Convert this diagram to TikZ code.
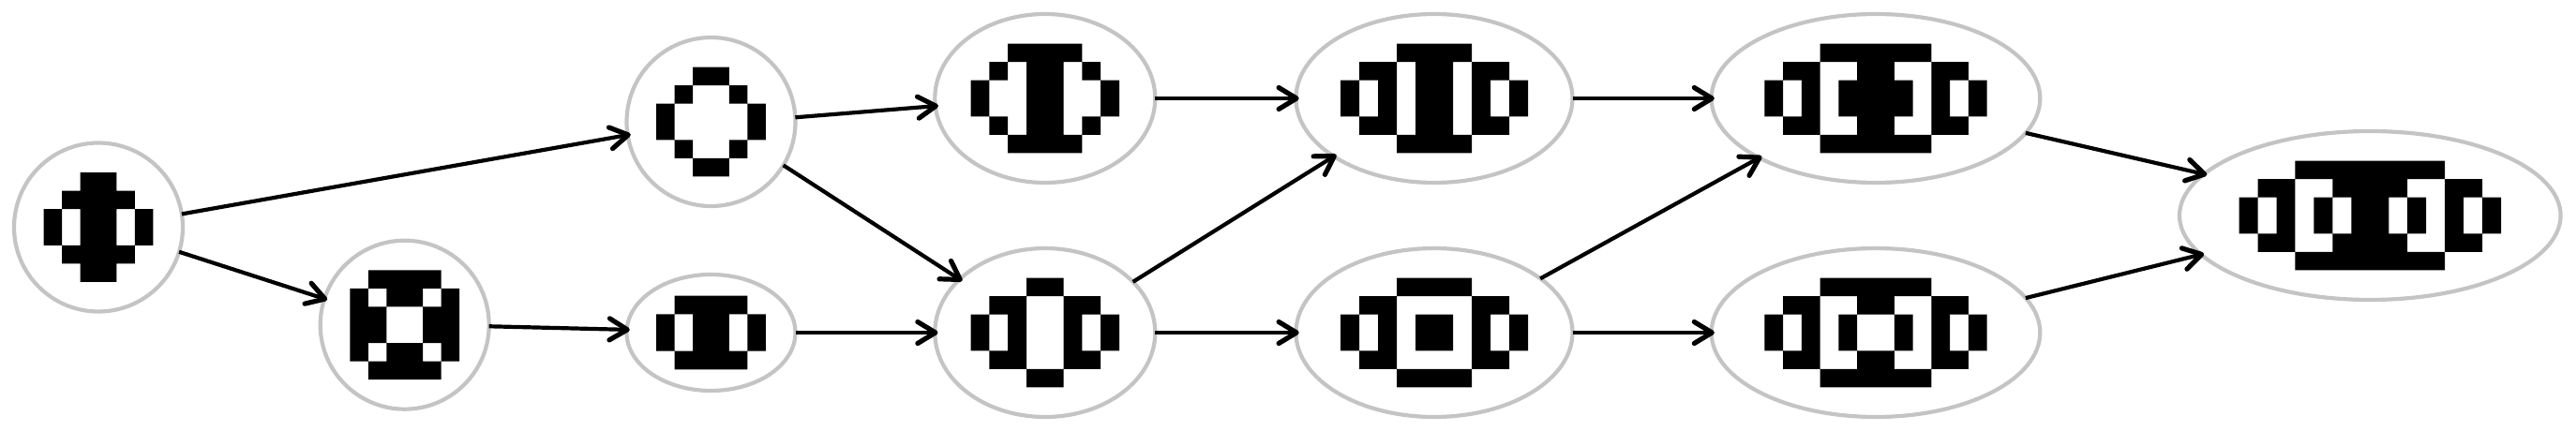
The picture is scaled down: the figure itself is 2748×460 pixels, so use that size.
\documentclass[tikz,border=0pt]{standalone}
\usetikzlibrary{shapes.geometric,arrows.meta}
\tikzset{
  cellnode/.style n args={2}{ellipse,draw=ringgray,line width=2.1pt,inner sep=0pt,outer sep=0pt,minimum width=#1pt,minimum height=#2pt},
  link/.style={line width=2.1pt,black,shorten >=-1.6pt,-{Straight Barb[length=9.5pt,width=11.5pt,round,line width=2.6pt]}}
}
\definecolor{ringgray}{HTML}{C4C4C4}
% centre node, cell width (pt), cell height (pt), columns, rows, runs row/first/last
\newcommand{\cellglyph}[6]{%
  \begin{scope}[shift={(#1)},x=#2pt,y=-#3pt,shift={(-#4/2,-#5/2)}]
    \fill[black] \foreach \ro/\ca/\cb in {#6} {(\ca,\ro) rectangle ({\cb+1},{\ro+1})};
  \end{scope}}
\begin{document}
\begin{tikzpicture}[x=0.5pt,y=-0.5pt]
\useasboundingbox (0,0) rectangle (2748,460);
\node[cellnode={90}{90}] (a) at (105,242.5) {};
\node[cellnode={90}{90}] (b) at (431.7,346.7) {};
\node[cellnode={90}{90}] (c) at (758.5,130) {};
\node[cellnode={90}{62}] (d) at (758.5,355) {};
\node[cellnode={117.5}{90}] (e) at (1114.8,105) {};
\node[cellnode={117.5}{90}] (f) at (1114.8,355) {};
\node[cellnode={147.5}{90}] (g) at (1530,105) {};
\node[cellnode={147.5}{90}] (h) at (1530,355) {};
\node[cellnode={175.3}{90}] (i) at (2001,105) {};
\node[cellnode={175.3}{90}] (j) at (2001,355) {};
\node[cellnode={203.3}{90}] (k) at (2528.3,230) {};

\cellglyph{a}{9.72}{9.72}{6}{6}{0/2/3,1/1/4,2/0/0,2/2/3,2/5/5,3/0/0,3/2/3,3/5/5,4/1/4,5/2/3}
\cellglyph{b}{9.72}{9.72}{6}{6}{0/1/4,1/0/0,1/2/3,1/5/5,2/0/1,2/4/5,3/0/1,3/4/5,4/0/0,4/2/3,4/5/5,5/1/4}
\cellglyph{c}{9.72}{9.72}{6}{6}{0/2/3,1/1/1,1/4/4,2/0/0,2/5/5,3/0/0,3/5/5,4/1/1,4/4/4,5/2/3}
\cellglyph{d}{9.72}{9.83}{6}{4}{0/1/4,1/0/0,1/2/3,1/5/5,2/0/0,2/2/3,2/5/5,3/1/4}
\cellglyph{e}{9.9}{9.72}{8}{6}{0/2/5,1/1/1,1/3/4,1/6/6,2/0/0,2/3/4,2/7/7,3/0/0,3/3/4,3/7/7,4/1/1,4/3/4,4/6/6,5/2/5}
\cellglyph{f}{9.9}{9.72}{8}{6}{0/3/4,1/1/2,1/5/6,2/0/0,2/2/2,2/5/5,2/7/7,3/0/0,3/2/2,3/5/5,3/7/7,4/1/2,4/5/6,5/3/4}
\cellglyph{g}{10}{9.72}{10}{6}{0/3/6,1/1/2,1/4/5,1/7/8,2/0/0,2/2/2,2/4/5,2/7/7,2/9/9,3/0/0,3/2/2,3/4/5,3/7/7,3/9/9,4/1/2,4/4/5,4/7/8,5/3/6}
\cellglyph{h}{10}{9.72}{10}{6}{0/3/6,1/1/2,1/7/8,2/0/0,2/2/2,2/4/5,2/7/7,2/9/9,3/0/0,3/2/2,3/4/5,3/7/7,3/9/9,4/1/2,4/7/8,5/3/6}
\cellglyph{i}{9.89}{9.72}{12}{6}{0/3/8,1/1/2,1/5/6,1/9/10,2/0/0,2/2/2,2/4/7,2/9/9,2/11/11,3/0/0,3/2/2,3/4/7,3/9/9,3/11/11,4/1/2,4/5/6,4/9/10,5/3/8}
\cellglyph{j}{9.89}{9.72}{12}{6}{0/3/8,1/1/2,1/5/6,1/9/10,2/0/0,2/2/2,2/4/4,2/7/7,2/9/9,2/11/11,3/0/0,3/2/2,3/4/4,3/7/7,3/9/9,3/11/11,4/1/2,4/5/6,4/9/10,5/3/8}
\cellglyph{k}{9.98}{9.72}{14}{6}{0/3/10,1/1/2,1/5/8,1/11/12,2/0/0,2/2/2,2/4/4,2/6/7,2/9/9,2/11/11,2/13/13,3/0/0,3/2/2,3/4/4,3/6/7,3/9/9,3/11/11,3/13/13,4/1/2,4/5/8,4/11/12,5/3/10}

\draw[link] (a.9.8) -- (c.189.3);
\draw[link] (a.-17) -- (b.162.1);
\draw[link] (b.-1) -- (d.178.2);
\draw[link] (c.3.7) -- (e.184.1);
\draw[link] (c.-31.5) -- (f.148.3);
\draw[link] (d.0) -- (f.180);
\draw[link] (e.0) -- (g.180);
\draw[link] (f.30.2) -- (g.210.6);
\draw[link] (f.0) -- (h.180);
\draw[link] (g.0) -- (i.180);
\draw[link] (h.27.3) -- (i.207.8);
\draw[link] (h.0) -- (j.180);
\draw[link] (i.-13) -- (k.166.5);
\draw[link] (j.13.3) -- (k.193);
\end{tikzpicture}
\end{document}
